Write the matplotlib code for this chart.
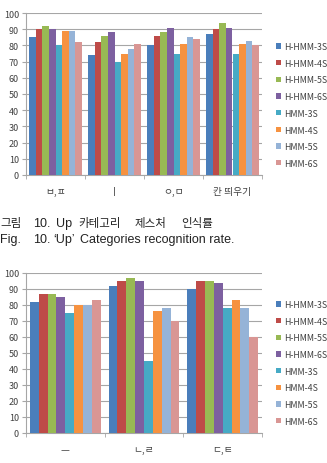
import matplotlib
matplotlib.use("Agg")
import matplotlib.pyplot as plt
import numpy as np
from matplotlib.patches import Patch

plt.rcParams['font.family'] = ['Noto Sans CJK KR', 'DejaVu Sans']

series = ["H-HMM-3S", "H-HMM-4S", "H-HMM-5S", "H-HMM-6S",
          "HMM-3S", "HMM-4S", "HMM-5S", "HMM-6S"]
colors = ["#4A7EBB", "#BE4B48", "#98B954", "#7D60A0",
          "#46AAC5", "#F69240", "#95B3D7", "#D99694"]

cats1 = ["ㅂ,ㅍ", "ㅣ", "ㅇ,ㅁ", "칸 띄우기"]
h3_1 = [85, 74, 80, 87]
h4_1 = [90, 82, 86, 90]
h5_1 = [92, 86, 88, 94]
h6_1 = [90, 88, 91, 91]
m3_1 = [80, 70, 75, 75]
m4_1 = [89, 75, 81, 81]
m5_1 = [89, 78, 85, 83]
m6_1 = [82, 81, 84, 80]

cats2 = ["ㅡ", "ㄴ,ㄹ", "ㄷ,ㅌ"]
h3_2 = [82, 92, 90]
h4_2 = [87, 95, 95]
h5_2 = [87, 97, 95]
h6_2 = [85, 95, 94]
m3_2 = [75, 45, 78]
m4_2 = [80, 76, 83]
m5_2 = [80, 78, 78]
m6_2 = [83, 70, 60]

caption_ko = ["그림", "10.", "Up", "카테고리", "제스처", "인식률"]
caption_ko_x = [0, 33, 56, 78, 135, 181]
caption_en = ["Fig.", "10.", "\u2018Up\u2019", "Categories recognition rate."]
caption_en_x = [0, 33, 53, 80]

W, H = 327, 464
fig = plt.figure(figsize=(W / 100, H / 100), dpi=100)

tc = "#404040"
gc = "#A6A6A6"


def draw(ax, cats, data, legend_top):
    n = len(series)
    x = np.arange(len(cats))
    bw = 0.9 / n
    for i, (vals, c) in enumerate(zip(data, colors)):
        ax.bar(x - 0.45 + bw * (i + 0.5), vals, width=bw, color=c,
               edgecolor='none', zorder=3)
    ax.set_xlim(-0.5, len(cats) - 0.5)
    ax.set_ylim(0, 100)
    ax.set_yticks(np.arange(0, 101, 10))
    ax.grid(axis='y', color=gc, linewidth=0.8, zorder=0)
    ax.set_xticks(x)
    ax.set_xticklabels(cats, fontsize=7, color=tc)
    ax.set_xticks(np.arange(-0.5, len(cats), 1.0), minor=True)
    ax.tick_params(axis='x', which='major', length=0, pad=8)
    ax.tick_params(axis='x', which='minor', length=3, color=gc, direction='out')
    ax.tick_params(axis='y', length=3, color=gc, labelsize=6.5, labelcolor=tc, pad=2)
    for s in ['top', 'right']:
        ax.spines[s].set_visible(False)
    for s in ['left', 'bottom']:
        ax.spines[s].set_color(gc)
        ax.spines[s].set_linewidth(0.8)
    handles = [Patch(facecolor=c, edgecolor='none') for c in colors]
    leg = fig.legend(handles, series, loc='upper left',
                     bbox_to_anchor=(276 / W, 1 - legend_top / H),
                     frameon=False, fontsize=6.3, handlelength=0.55,
                     handleheight=0.55, handletextpad=0.35,
                     labelspacing=0.88, borderaxespad=0, borderpad=0)
    for t in leg.get_texts():
        t.set_color(tc)


ax1 = fig.add_axes([26 / W, 1 - 176 / H, 236 / W, 162 / H])
draw(ax1, cats1, [h3_1, h4_1, h5_1, h6_1, m3_1, m4_1, m5_1, m6_1], 43)

ax2 = fig.add_axes([26 / W, 1 - 434 / H, 236 / W, 160 / H])
draw(ax2, cats2, [h3_2, h4_2, h5_2, h6_2, m3_2, m4_2, m5_2, m6_2], 301)

cc = "#222222"
for word, xp in zip(caption_ko, caption_ko_x):
    fam = 'Liberation Sans' if word in ("10.", "Up") else ['Noto Sans CJK KR', 'DejaVu Sans']
    fs = 9 if word in ("10.", "Up") else 8.3
    fig.text(xp / W, 1 - 224 / H, word, fontsize=fs, color=cc, va='center', family=fam)
for word, xp in zip(caption_en, caption_en_x):
    fig.text(xp / W, 1 - 240 / H, word, fontsize=9, color=cc, va='center',
             family='Liberation Sans')

fig.savefig("out.png", dpi=100)
